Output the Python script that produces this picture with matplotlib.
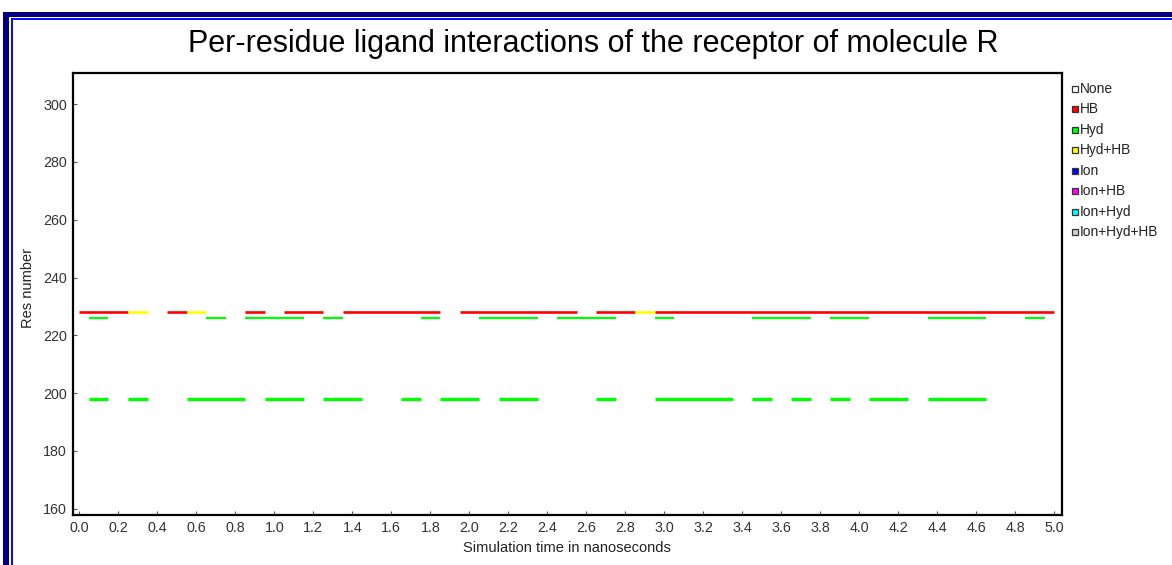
import numpy as np
import matplotlib
matplotlib.use("Agg")
import matplotlib.pyplot as plt
from matplotlib.lines import Line2D
from matplotlib.patches import Rectangle

plt.rcParams["font.family"] = ["Liberation Sans", "DejaVu Sans"]

# interaction states per residue, one entry per 0.1 ns frame (0.0 .. 5.0 ns)
# 0 = None, 1 = HB, 2 = Hyd, 3 = Hyd+HB
frame_times = np.arange(51) * 0.1
residues = [228, 226, 198]
res_228 = [1, 1, 1, 3, 0, 1, 3, 0, 0, 1,
           0, 1, 1, 0, 1, 1, 1, 1, 1, 0,
           1, 1, 1, 1, 1, 1, 0, 1, 1, 3,
           1, 1, 1, 1, 1, 1, 1, 1, 1, 1,
           1, 1, 1, 1, 1, 1, 1, 1, 1, 1,
           1]
res_226 = [0, 2, 0, 0, 0, 0, 0, 2, 0, 2,
           2, 2, 0, 2, 0, 0, 0, 0, 2, 0,
           0, 2, 2, 2, 0, 2, 2, 2, 0, 0,
           2, 0, 0, 0, 0, 2, 2, 2, 0, 2,
           2, 0, 0, 0, 2, 2, 2, 0, 0, 2,
           0]
res_198 = [0, 2, 0, 2, 0, 0, 2, 2, 2, 0,
           2, 2, 0, 2, 2, 0, 0, 2, 0, 2,
           2, 0, 2, 2, 0, 0, 0, 2, 0, 0,
           2, 2, 2, 2, 0, 2, 0, 2, 0, 2,
           0, 2, 2, 0, 2, 2, 2, 0, 0, 0,
           0]
states = [res_228, res_226, res_198]

state_names = ["None", "HB", "Hyd", "Hyd+HB", "Ion", "Ion+HB", "Ion+Hyd", "Ion+Hyd+HB"]
state_colors = ["#ffffff", "#ff0000", "#00ff00", "#ffff00", "#0000ff",
                "#ff00ff", "#00ffff", "#d0d0d0"]
line_widths = [1.9, 1.6, 2.4]

W, H = 1172, 565
fig = plt.figure(figsize=(W / 100, H / 100), dpi=100)


def fx(x):
    return x / W


def fy(y):
    return 1 - y / H


# double blue frame around the panel
navy = "#000080"
blue = "#0a0aff"
fig.add_artist(Rectangle((fx(3.3), 0), fx(6.0), fy(11.7), color=navy, lw=0,
                         transform=fig.transFigure))
fig.add_artist(Rectangle((fx(3.3), fy(16.5)), 1, fy(11.7) - fy(16.5), color=navy,
                         lw=0, transform=fig.transFigure))
fig.add_artist(Rectangle((fx(10.7), 0), fx(2.0), fy(17.7), color=blue, lw=0,
                         transform=fig.transFigure))
fig.add_artist(Rectangle((fx(10.7), fy(20.0)), 1, fy(17.7) - fy(20.0), color=blue,
                         lw=0, transform=fig.transFigure))

ax = fig.add_axes([fx(73), fy(515), fx(1062 - 73), fy(73) - fy(515)])

half = 0.05
for res, codes, lw in zip(residues, states, line_widths):
    # merge consecutive frames with the same state into one segment
    start = 0
    for i in range(1, len(codes) + 1):
        if i == len(codes) or codes[i] != codes[start]:
            code = codes[start]
            if code != 0:
                x0 = max(frame_times[start] - half, 0.0)
                x1 = min(frame_times[i - 1] + half, 5.0)
                ax.hlines(res, x0, x1, colors=state_colors[code], lw=lw,
                          capstyle="butt")
            start = i

ax.set_xlim(-0.032, 5.039)
ax.set_ylim(157.8, 310.8)
ax.set_xticks(np.round(np.arange(0, 5.01, 0.2), 1))
ax.set_xticklabels([f"{v:.1f}" for v in np.arange(0, 5.01, 0.2)])
ax.set_yticks(range(160, 301, 20))
ax.tick_params(direction="in", length=3, width=0.8, colors="#555555",
               labelcolor="#333333", labelsize=10.3, pad=4.5)
for side in ax.spines.values():
    side.set_linewidth(1.6)
    side.set_color("black")

fig.text(fx(593), fy(52.3), "Per-residue ligand interactions of the receptor of molecule R",
         fontsize=22, ha="center", va="baseline", color="black")
fig.text(fx(567), fy(548), "Simulation time in nanoseconds", fontsize=10.5,
         ha="center", va="center", color="#222222")
fig.text(fx(28), fy(288), "Res number", fontsize=10.5, rotation=90,
         ha="center", va="center", color="#222222")

# legend of interaction states
for i, (name, color) in enumerate(zip(state_names, state_colors)):
    y = 89 + i * 20.43
    fig.add_artist(Line2D([fx(1074.5)], [fy(y)], marker="s", markersize=4.0,
                          markerfacecolor=color, markeredgecolor="#333333",
                          markeredgewidth=0.9, transform=fig.transFigure))
    fig.text(fx(1079.5), fy(y), name, fontsize=9.9, ha="left", va="center",
             color="#222222")

fig.savefig("out.png", dpi=100)
